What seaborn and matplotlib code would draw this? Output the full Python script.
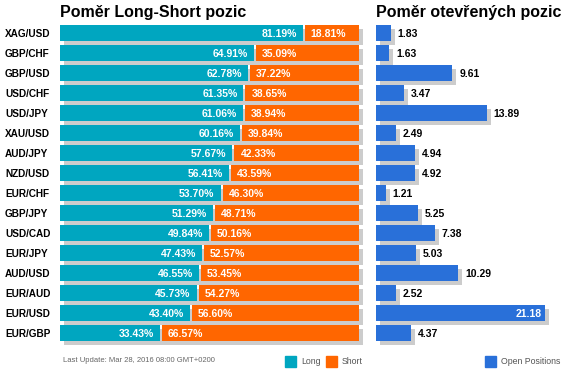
import numpy as np
import matplotlib
matplotlib.use("Agg")
import matplotlib.pyplot as plt
import seaborn as sns
from matplotlib.patches import Rectangle

pairs = ["XAG/USD", "GBP/CHF", "GBP/USD", "USD/CHF", "USD/JPY", "XAU/USD", "AUD/JPY",
         "NZD/USD", "EUR/CHF", "GBP/JPY", "USD/CAD", "EUR/JPY", "AUD/USD", "EUR/AUD",
         "EUR/USD", "EUR/GBP"]
long_pct = [81.19, 64.91, 62.78, 61.35, 61.06, 60.16, 57.67, 56.41, 53.70, 51.29,
            49.84, 47.43, 46.55, 45.73, 43.40, 33.43]
short_pct = [18.81, 35.09, 37.22, 38.65, 38.94, 39.84, 42.33, 43.59, 46.30, 48.71,
             50.16, 52.57, 53.45, 54.27, 56.60, 66.57]
open_pos = [1.83, 1.63, 9.61, 3.47, 13.89, 2.49, 4.94, 4.92, 1.21, 5.25, 7.38, 5.03,
            10.29, 2.52, 21.18, 4.37]

TEAL = "#00A6C0"
ORANGE = "#FF6600"
BLUE = "#2970D9"
SHADOW = "#CCCCCC"

sns.set_theme(style="white")
plt.rcParams["font.family"] = ["Liberation Sans", "DejaVu Sans"]

W, H = 566, 370
fig = plt.figure(figsize=(W / 100, H / 100), dpi=100)

def fx(px):
    return px / W

def fy(py):
    return 1 - py / H

top_px, bot_px = 13, 353
axL = fig.add_axes([fx(60), fy(bot_px), fx(310), (bot_px - top_px) / H])
axR = fig.add_axes([fx(376), fy(bot_px), fx(190), (bot_px - top_px) / H])

n = len(pairs)
ypos = np.arange(n)
long_a = np.array(long_pct)
short_a = np.array(short_pct)
open_a = np.array(open_pos)

# ---- left panel
sclL = 2.99  # px per unit
gap = 2 / sclL
sdx = 4 / sclL
sdy = 4 / 20
axL.barh(ypos + sdy, 100, left=sdx, height=0.8, color=SHADOW, linewidth=0, zorder=0.5)
sns.barplot(x=long_pct, y=pairs, orient="h", color=TEAL, width=0.8,
            saturation=1, linewidth=0, edgecolor="none", ax=axL, zorder=2)
axL.barh(ypos, short_a - gap, left=long_a + gap, height=0.8, color=ORANGE,
         linewidth=0, zorder=2)
for i in range(n):
    axL.text(long_a[i] - 6 / sclL, i + 0.03, f"{long_a[i]:.2f}%", ha="right", va="center",
             color="white", fontsize=7.5, fontweight="bold", zorder=3)
    axL.text(long_a[i] + gap + 6 / sclL, i + 0.03, f"{short_a[i]:.2f}%", ha="left",
             va="center", color="white", fontsize=7.5, fontweight="bold", zorder=3)
    axL.text(-55 / sclL, i + 0.03, pairs[i], ha="left", va="center", color="black",
             fontsize=7.2, fontweight="bold")
axL.set_xlim(0, 310 / sclL)
axL.set_ylim(16, -1)
axL.set_axis_off()

# ---- right panel
sclR = 7.96
sdxR = 4 / sclR
axR.barh(ypos + sdy, open_a, left=sdxR, height=0.8, color=SHADOW, linewidth=0, zorder=0.5)
sns.barplot(x=open_pos, y=pairs, orient="h", color=BLUE, width=0.8,
            saturation=1, linewidth=0, edgecolor="none", ax=axR, zorder=2)
for i in range(n):
    v = open_a[i]
    if v > 18:
        axR.text(v - 3 / sclR, i + 0.03, f"{v:.2f}", ha="right", va="center",
                 color="white", fontsize=7.5, fontweight="bold", zorder=3)
    else:
        axR.text(v + 7 / sclR, i + 0.03, f"{v:.2f}", ha="left", va="center",
                 color="black", fontsize=7.5, fontweight="bold", zorder=3)
axR.set_xlim(0, 190 / sclR)
axR.set_ylim(16, -1)
axR.set_axis_off()

# ---- titles
fig.text(fx(60), fy(17), "Poměr Long-Short pozic", fontsize=11.5, fontweight="bold",
         ha="left", va="baseline", color="black")
fig.text(fx(376), fy(17), "Poměr otevřených pozic", fontsize=11.5, fontweight="bold",
         ha="left", va="baseline", color="black")

# ---- footer
fig.text(fx(63), fy(361), "Last Update: Mar 28, 2016 08:00 GMT+0200", fontsize=5.5,
         color="#666666", ha="left", va="center")

def legend_item(x0, color, label):
    fig.patches.append(Rectangle((fx(x0), fy(367)), fx(11), 11 / H, color=color,
                                 transform=fig.transFigure, figure=fig))
    fig.text(fx(x0 + 16), fy(361), label, fontsize=6.3, color="#555555",
             ha="left", va="center")

legend_item(285, TEAL, "Long")
legend_item(326, ORANGE, "Short")
legend_item(485, BLUE, "Open Positions")

fig.savefig("out.png", dpi=100)
